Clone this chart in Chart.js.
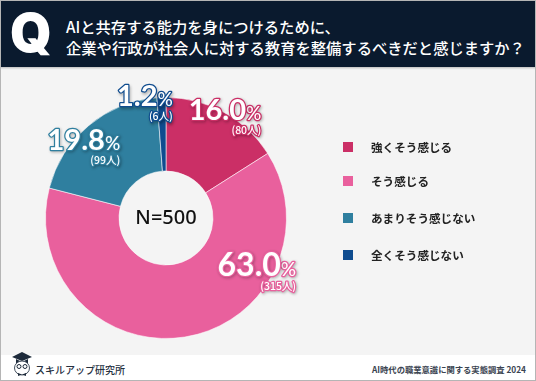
<!DOCTYPE html>
<html lang="ja"><head><meta charset="utf-8">
<script src="https://cdn.jsdelivr.net/npm/chart.js@4"></script>
<style>
html,body{margin:0;padding:0;background:#fff}
#frame{position:relative;width:536px;height:381px;overflow:hidden;background:#f4f4f4;font-family:"Noto Sans CJK JP","Noto Sans",sans-serif}
#border{position:absolute;inset:0;border:1px solid #b5b5b5;box-sizing:border-box;z-index:5;pointer-events:none}
#head{position:absolute;left:0;top:0;width:536px;height:67px;background:#0a1a2e;box-shadow:0 1px 2px rgba(0,0,0,.25)}
#q{position:absolute;left:10px;top:5px;color:#fff;font:900 53px/56px Inter,"Noto Sans",sans-serif}
#title{position:absolute;left:66px;top:16px;color:#fff;font-weight:500;font-size:15.3px;line-height:21px;white-space:nowrap}
#foot{position:absolute;left:0;top:355px;width:536px;height:26px;background:#fff}
#brand{position:absolute;left:35px;top:5px;font-size:10px;line-height:20px;font-weight:500;color:#25303f;white-space:nowrap}
#survey{position:absolute;right:10px;top:6px;font-size:8.3px;line-height:16px;font-weight:700;color:#3a4350;white-space:nowrap}
#logo{position:absolute;left:11px;top:-4px}
canvas{position:absolute;left:0;top:0}
.lg{position:absolute;left:343px;height:10px}
.lg i{position:absolute;left:0;top:0;width:10px;height:10px}
.lg span{position:absolute;left:28px;top:-8px;line-height:26px;font-size:11.6px;font-weight:700;color:#222;white-space:nowrap}
</style></head><body>
<div id="frame">
<div id="head"><div id="q">Q</div>
<div id="title">AIと共存する能力を身につけるために、<br>企業や行政が社会人に対する教育を整備するべきだと感じますか？</div></div>
<canvas id="c" width="536" height="381"></canvas>
<div id="legend"></div>
<div id="foot">
<svg id="logo" width="22" height="28" viewBox="0 0 22 28"><path d="M11 1 21 6 11 10 1 6Z" fill="#1d2a3a"/><path d="M5 8v4h12V8l-6 3z" fill="#1d2a3a"/><ellipse cx="11" cy="17" rx="7.5" ry="7" fill="#fff" stroke="#44505e"/><circle cx="8" cy="15.500" r="2" fill="none" stroke="#1d2a3a"/><circle cx="14" cy="15.500" r="2" fill="none" stroke="#1d2a3a"/><path d="M7 25l4-1.500 4 1.500v-3l-4 1.500-4-1.500z" fill="#1d2a3a"/></svg>
<div id="brand">スキルアップ研究所</div>
<div id="survey">AI時代の職業意識に関する実態調査 2024</div></div>
<div id="border"></div>
</div>
<script>
const categories = ["強くそう感じる","そう感じる","あまりそう感じない","全くそう感じない"];
const counts = [80,315,99,6];
const percents = ["16.0","63.0","19.8","1.2"];
const sampleLabel = "N=500";
const colors = ["#cb2f66","#e9609d","#2f7f9f","#0f4c8f"];

const legendTops = [142,176,213,250];
const lg = document.getElementById('legend');
categories.forEach((t,i)=>{
  const d=document.createElement('div');d.className='lg';d.style.top=legendTops[i]+'px';
  const b=document.createElement('i');b.style.background=colors[i];
  const s=document.createElement('span');s.textContent=t;
  d.append(b,s);lg.append(d);
});

// anchor of each label relative to its arc's centre point (right edge, number baseline)
const labelOffsets=[[55,-25],[117,-25],[8,-4],[10,-28]];
const labelSizes=[29,32,29,29];
const labelFont='Lato,"Noto Sans",sans-serif';
const labels={id:'labels',afterDatasetsDraw(chart){
  const g=chart.ctx, arcs=chart.getDatasetMeta(0).data;
  g.save();
  const first=arcs[0];
  g.fillStyle='#111';g.font='500 20px "Noto Sans",sans-serif';g.textAlign='center';g.textBaseline='middle';
  g.fillText(sampleLabel,first.x,first.y);
  g.textAlign='right';g.textBaseline='alphabetic';g.lineJoin='round';
  const put=(t,x,y,font,stroke,lw)=>{
    g.font=font;
    g.save();g.shadowColor='rgba(0,0,0,.3)';g.shadowBlur=3;g.shadowOffsetX=1;g.shadowOffsetY=1.500;
    g.strokeStyle=stroke;g.lineWidth=lw;g.strokeText(t,x,y);g.restore();
    g.fillStyle='#fff';g.fillText(t,x,y);
    return g.measureText(t).width;
  };
  arcs.forEach((a,i)=>{
    const c=a.getCenterPoint(), x=c.x+labelOffsets[i][0], y=c.y+labelOffsets[i][1];
    const w=put('%',x,y,'500 19px '+labelFont,colors[i],2.500);
    put(percents[i],x-w,y,'700 '+labelSizes[i]+'px '+labelFont,colors[i],2.500);
    put('('+counts[i]+'人)',x,y+14,'500 10.500px "Noto Sans CJK JP",sans-serif',colors[i],2.500);
  });
  g.restore();
}};
new Chart(document.getElementById('c'),{
  type:'doughnut',
  data:{labels:categories,datasets:[{data:counts,backgroundColor:colors,borderColor:'rgba(255,255,255,.55)',borderWidth:1}]},
  options:{responsive:false,animation:false,cutout:'39%',
    layout:{padding:{left:45,right:249,top:97,bottom:42}},
    plugins:{legend:{display:false},tooltip:{enabled:false}}},
  plugins:[labels]
});
</script>
</body></html>
